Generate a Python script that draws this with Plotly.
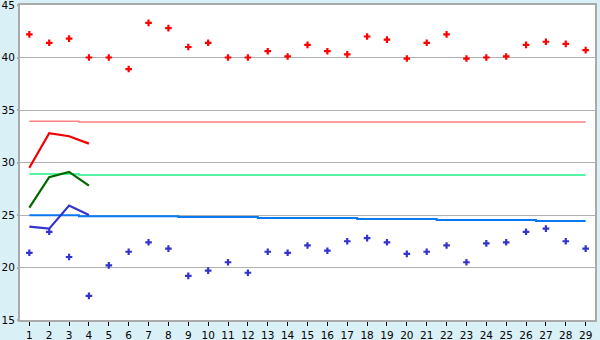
import plotly.graph_objects as go

x = list(range(1, 30))
red_pts = [42.2, 41.4, 41.8, 40.0, 40.0, 38.9, 43.3, 42.8, 41.0, 41.4,
           40.0, 40.0, 40.6, 40.1, 41.2, 40.6, 40.3, 42.0, 41.7, 39.9,
           41.4, 42.2, 39.9, 40.0, 40.1, 41.2, 41.5, 41.3, 40.7]
blue_pts = [21.4, 23.4, 21.0, 17.3, 20.2, 21.5, 22.4, 21.8, 19.2, 19.7,
            20.5, 19.5, 21.5, 21.4, 22.1, 21.6, 22.5, 22.8, 22.4, 21.3,
            21.5, 22.1, 20.5, 22.3, 22.4, 23.4, 23.7, 22.5, 21.8]
x_short = [1, 2, 3, 4]
red_line = [29.5, 32.8, 32.5, 31.8]
green_line = [25.7, 28.6, 29.1, 27.8]
blue_line = [23.9, 23.7, 25.9, 25.0]
red_ref = [33.93] * 3 + [33.85] * 26
green_ref = [28.9] * 3 + [28.8] * 26
blue_ref = [24.98] * 3 + [24.88] * 5 + [24.82] * 4 + [24.72] * 5 + [24.63] * 4 + [24.53] * 5 + [24.43] * 3
y_ticks = [15, 20, 25, 30, 35, 40, 45]

fig = go.Figure()
fig.add_trace(go.Scatter(x=x, y=red_ref, mode="lines", line=dict(color="#FF8080", width=1.5, shape="hvh")))
fig.add_trace(go.Scatter(x=x, y=green_ref, mode="lines", line=dict(color="#22EE88", width=1.5, shape="hvh")))
fig.add_trace(go.Scatter(x=x, y=blue_ref, mode="lines", line=dict(color="#0A78F0", width=2, shape="hvh")))
fig.add_trace(go.Scatter(x=x_short, y=red_line, mode="lines", line=dict(color="#EE0000", width=2.2)))
fig.add_trace(go.Scatter(x=x_short, y=green_line, mode="lines", line=dict(color="#006600", width=2.2)))
fig.add_trace(go.Scatter(x=x_short, y=blue_line, mode="lines", line=dict(color="#3333CC", width=2.2)))
fig.add_trace(go.Scatter(x=x, y=red_pts, mode="markers", marker=dict(color="#FF0000", symbol="cross", size=5.5)))
fig.add_trace(go.Scatter(x=x, y=blue_pts, mode="markers", marker=dict(color="#3333CC", symbol="cross", size=5.5)))

fig.update_layout(
    width=600, height=340,
    margin=dict(l=20, r=5, t=5, b=20),
    paper_bgcolor="#DAF0F7", plot_bgcolor="#FFFFFF",
    showlegend=False,
    font=dict(family="DejaVu Sans", size=10.5, color="#000000"),
)
fig.update_xaxes(range=[0.53, 29.47], tickmode="array", tickvals=x, ticktext=[str(v) for v in x],
                 automargin=False, ticklabeloverflow="allow",
                 showgrid=False, zeroline=False, showline=True, linecolor="#AAAAAA", linewidth=2, mirror=True,
                 ticks="outside", ticklen=4, tickcolor="#000000", tickwidth=1)
fig.update_yaxes(range=[15, 45], tickmode="array", tickvals=y_ticks,
                 automargin=False, ticklabeloverflow="allow",
                 showgrid=True, gridcolor="#B0B0B0", gridwidth=1, zeroline=False,
                 showline=True, linecolor="#AAAAAA", linewidth=2, mirror=True,
                 ticks="outside", ticklen=1, tickcolor="#AAAAAA", tickwidth=1.5)

fig.write_html("out.html")
